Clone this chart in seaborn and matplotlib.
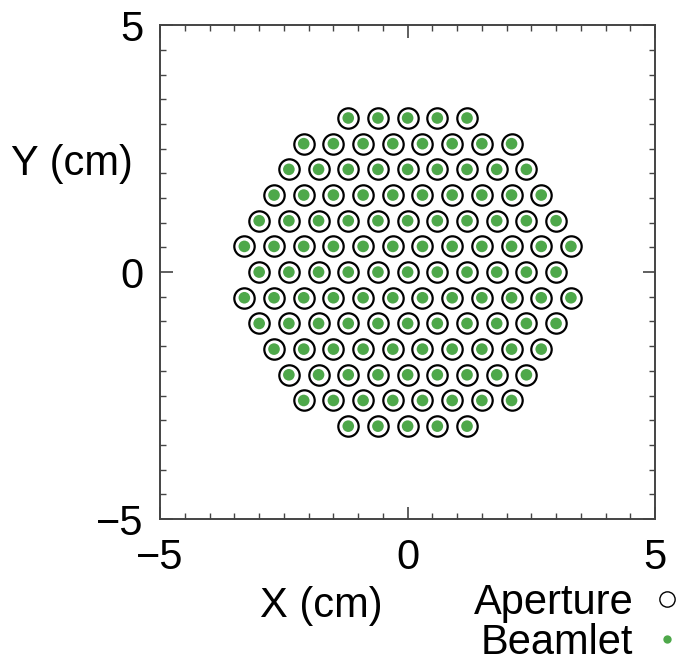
import numpy as np
import pandas as pd
import seaborn as sns
import matplotlib.pyplot as plt
from matplotlib.lines import Line2D
from matplotlib.ticker import MultipleLocator

# Rows of the hexagonal aperture grid (cm)
row_y = [3.12, 2.60, 2.08, 1.56, 1.04, 0.52, 0.0, -0.52, -1.04, -1.56, -2.08, -2.60, -3.12]
row_x_start = [-1.2, -2.1, -2.4, -2.7, -3.0, -3.3, -3.0, -3.3, -3.0, -2.7, -2.4, -2.1, -1.2]
row_count = [5, 8, 9, 10, 11, 12, 11, 12, 11, 10, 9, 8, 5]
pitch = 0.6

tick_values = [-5, 0, 5]
tick_labels = ['\u22125', '0', '5']

green = '#4ea84a'

xs, ys = [], []
for y0, x0, n in zip(row_y, row_x_start, row_count):
    for i in range(n):
        xs.append(round(x0 + pitch * i, 2))
        ys.append(y0)
df = pd.DataFrame({'x': xs, 'y': ys})

sns.set_style('white')
plt.rcParams['font.family'] = ['Liberation Sans', 'DejaVu Sans']
plt.rcParams['text.color'] = 'black'

fig = plt.figure(figsize=(6.76, 6.62), dpi=100)
ax = fig.add_axes([0.237, 0.216, 0.732, 0.746])

sns.scatterplot(data=df, x='x', y='y', ax=ax, marker='o', s=215,
                facecolor='white', edgecolor='black', linewidth=1.6, legend=False)
sns.scatterplot(data=df, x='x', y='y', ax=ax, marker='o', s=70,
                color=green, edgecolor='none', linewidth=0, legend=False)

ax.set_xlim(-5, 5)
ax.set_ylim(-5, 5)
ax.set_xticks(tick_values, tick_labels)
ax.set_yticks(tick_values, tick_labels)
ax.xaxis.set_minor_locator(MultipleLocator(0.5))
ax.yaxis.set_minor_locator(MultipleLocator(0.5))
ax.tick_params(which='both', direction='in', top=True, right=True, bottom=True, left=True,
               color='#444444')
ax.tick_params(which='major', length=9, width=1.2, labelsize=30, pad=12, labelcolor='black')
ax.tick_params(which='minor', length=4, width=1.0)
ax.tick_params(axis='x', which='major', pad=14)
for s in ax.spines.values():
    s.set_color('#444444')
    s.set_linewidth(1.4)

ax.set_xlabel('')
ax.set_ylabel('')
fig.text(0.475, 0.085, 'X (cm)', fontsize=30, ha='center', va='center', color='black')
fig.text(0.107, 0.752, 'Y (cm)', fontsize=30, ha='center', va='center', color='black')

handles = [
    Line2D([], [], marker='o', linestyle='none', markersize=11, markerfacecolor='white',
           markeredgecolor='black', markeredgewidth=1.0, label='Aperture'),
    Line2D([], [], marker='o', linestyle='none', markersize=6, markerfacecolor=green,
           markeredgecolor='none', label='Beamlet'),
]
fig.legend(handles=handles, loc='lower right', bbox_to_anchor=(1.048, -0.045), frameon=False,
           markerfirst=False, fontsize=30, handlelength=0.6, handletextpad=0.5,
           labelspacing=0.0, borderpad=0.2, labelcolor='black')

fig.savefig('out.png', dpi=100)
